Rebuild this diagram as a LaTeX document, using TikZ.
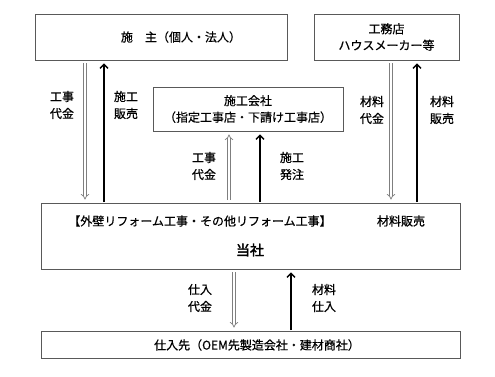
\documentclass[tikz,border=0pt]{standalone}
\usepackage{fontspec}
\setmainfont{Noto Sans CJK JP}[FakeBold=0.6]
\newfontfamily\boldcjk{Noto Sans CJK JP}[FakeBold=2.5]
\usetikzlibrary{arrows.meta}
\definecolor{boxgray}{HTML}{595959}
\definecolor{arrowgray}{HTML}{7F7F7F}
\begin{document}
\begin{tikzpicture}[x=1pt,y=-1pt,
  box/.style={draw=boxgray, line width=0.9pt, inner sep=0pt, align=center,
    font=\fontsize{12}{16.5}\selectfont},
  lbl/.style={inner sep=0pt, align=center, font=\fontsize{12}{17}\selectfont},
  solidarrow/.style={draw=black, line width=1.3pt,
    -{Straight Barb[length=4pt,width=8pt]}, shorten <=0.5pt, shorten >=3pt},
  hollowarrow/.style={draw=arrowgray, line width=0.7pt, double=white,
    double distance=2.2pt, -{Implies}, shorten <=3pt, shorten >=3pt},
]
\useasboundingbox[fill=white] (0,0) rectangle (495,376);

% boxes
\node[box, minimum width=252pt, minimum height=46pt] (shiju) at (161,37) {};
\node[box, minimum width=145pt, minimum height=46pt] (koumuten) at (386.5,37)
  {工務店\\ハウスメーカー等};
\node[box, minimum width=190pt, minimum height=44pt] (sekou) at (248,109)
  {施工会社\\（指定工事店・下請け工事店）};
\node[box, minimum width=419pt, minimum height=66pt] (tosha) at (250.5,236) {};
\node[box, minimum width=419pt, minimum height=27pt] (shiire) at (250.5,344.5) {};

% box texts
\node[lbl] (tShiju) at (181,37) {施　主（個人・法人）};
\node[lbl] (tReform) at (200,221) {【外壁リフォーム工事・その他リフォーム工事】};
\node[lbl] (tZairyo) at (401,221) {材料販売};
\node[lbl, font=\fontsize{14}{16}\selectfont\boldcjk] (tTosha) at (250,250) {当社};
\node[lbl] (tShiire) at (257,345) {仕入先（OEM先製造会社・建材商社）};

% x positions of connectors
\coordinate (xa) at (85,0);
\coordinate (xb) at (104,0);
\coordinate (xc) at (229,0);
\coordinate (xd) at (260,0);
\coordinate (xe) at (391,0);
\coordinate (xf) at (417,0);
\coordinate (xg) at (234,0);
\coordinate (xh) at (291,0);

% connectors
\draw[hollowarrow] (shiju.south -| xa) -- (tosha.north -| xa);
\draw[solidarrow] (tosha.north -| xb) -- (shiju.south -| xb);
\draw[hollowarrow] (tosha.north -| xc) -- (sekou.south -| xc);
\draw[solidarrow] (tosha.north -| xd) -- (sekou.south -| xd);
\draw[hollowarrow] (koumuten.south -| xe) -- (tosha.north -| xe);
\draw[solidarrow] (tosha.north -| xf) -- (koumuten.south -| xf);
\draw[hollowarrow] (tosha.south -| xg) -- (shiire.north -| xg);
\draw[solidarrow] (shiire.north -| xh) -- (tosha.south -| xh);

% connector labels
\node[lbl] (l1) at (62,105) {工事\\代金};
\node[lbl] (l2) at (126,105) {施工\\販売};
\node[lbl] (l3) at (204,166) {工事\\代金};
\node[lbl] (l4) at (292,166) {施工\\発注};
\node[lbl] (l5) at (372,110) {材料\\代金};
\node[lbl] (l6) at (442,110) {材料\\販売};
\node[lbl] (l7) at (200,298) {仕入\\代金};
\node[lbl] (l8) at (324,298) {材料\\仕入};
\end{tikzpicture}
\end{document}
